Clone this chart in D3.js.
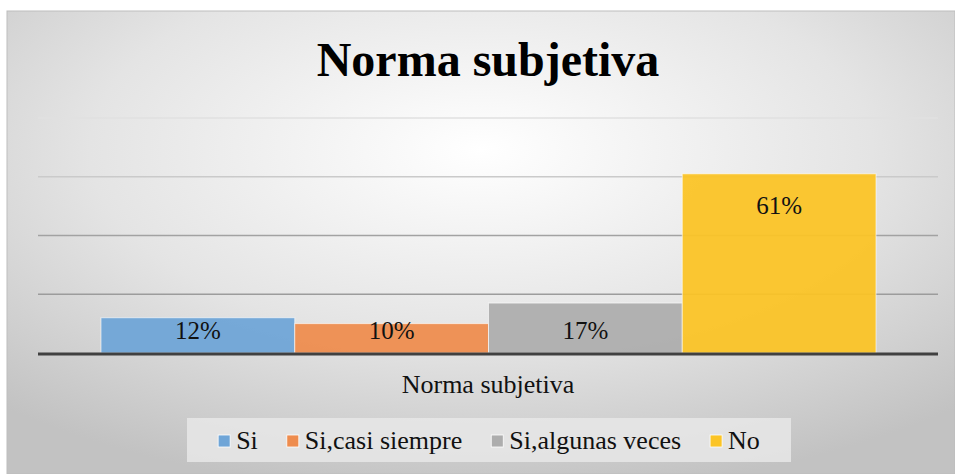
<!DOCTYPE html>
<html>
<head>
<meta charset="utf-8">
<script src="https://cdn.jsdelivr.net/npm/d3@7"></script>
<style>
  html, body { margin: 0; padding: 0; background: #fff; }
  svg { display: block; }
  svg text { font-family: "Liberation Serif", "Times New Roman", serif; }
</style>
</head>
<body>
<div id="chart"></div>
<script>
// data
const category = 'Norma subjetiva';
const seriesNames = ['Si', 'Si,casi siempre', 'Si,algunas veces', 'No'];
const seriesValues = [0.12, 0.10, 0.17, 0.61];
const seriesColors = ['#6fa5d7', '#ee8c4e', '#adadad', '#fbc425'];
const yTicks = [0, 0.2, 0.4, 0.6, 0.8];

const width = 955, height = 474;
const svg = d3.select('#chart').append('svg')
    .attr('width', width)
    .attr('height', height);

// background with soft radial shading
const defs = svg.append('defs');
const grad = defs.append('radialGradient')
    .attr('id', 'bg')
    .attr('cx', '50%').attr('cy', '30%').attr('r', '75%');
grad.append('stop').attr('offset', '0%').attr('stop-color', '#ffffff');
grad.append('stop').attr('offset', '55%').attr('stop-color', '#e4e4e4');
grad.append('stop').attr('offset', '100%').attr('stop-color', '#c2c2c2');

svg.append('rect')
    .attr('x', 7).attr('y', 11)
    .attr('width', width - 7).attr('height', height - 11)
    .attr('fill', 'url(#bg)')
    .attr('stroke', '#bdbdbd')
    .attr('stroke-width', 1);

// title
svg.append('text')
    .attr('x', 488).attr('y', 76)
    .attr('text-anchor', 'middle')
    .attr('font-size', 48)
    .attr('font-weight', 'bold')
    .text(category);

const plot = { left: 38, right: 938, top: 118, bottom: 353 };

const y = d3.scaleLinear()
    .domain([0, d3.max(yTicks)])
    .range([plot.bottom, plot.top]);

const x = d3.scaleBand()
    .domain(seriesNames)
    .range([101, 876])
    .padding(0);

// gridlines (upper ones fade out in the reference)
const gridColors = ['#9c9c9c', '#a2a2a2', '#cacaca', '#e0e0e0'];
svg.append('g')
    .selectAll('line')
    .data(yTicks.filter(t => t > 0))
    .enter()
    .append('line')
    .attr('x1', plot.left).attr('x2', plot.right)
    .attr('y1', d => y(d)).attr('y2', d => y(d))
    .attr('stroke', (d, i) => gridColors[i])
    .attr('stroke-width', 1.5);

// bars
const data = seriesNames.map((name, i) => ({ name, value: seriesValues[i], color: seriesColors[i] }));

svg.append('g')
    .selectAll('rect')
    .data(data)
    .enter()
    .append('rect')
    .attr('x', d => x(d.name))
    .attr('y', d => y(d.value))
    .attr('width', x.bandwidth())
    .attr('height', d => plot.bottom - y(d.value))
    .attr('fill', d => d.color)
    .attr('fill-opacity', 0.94)
    .attr('stroke', '#ffffff')
    .attr('stroke-opacity', 0.6)
    .attr('stroke-width', 1);

// value labels
svg.append('g')
    .selectAll('text')
    .data(data)
    .enter()
    .append('text')
    .attr('x', d => x(d.name) + x.bandwidth() / 2)
    .attr('y', d => d.value > 0.3 ? y(d.value) + 40 : plot.bottom - 14)
    .attr('text-anchor', 'middle')
    .attr('font-size', 25)
    .attr('fill', '#111')
    .text(d => Math.round(d.value * 100) + '%');

// baseline
svg.append('line')
    .attr('x1', plot.left).attr('x2', plot.right)
    .attr('y1', plot.bottom + 1).attr('y2', plot.bottom + 1)
    .attr('stroke', '#404040')
    .attr('stroke-width', 3);

// category label
svg.append('text')
    .attr('x', 488).attr('y', 393)
    .attr('text-anchor', 'middle')
    .attr('font-size', 26)
    .attr('fill', '#111')
    .text(category);

// legend
const legend = svg.append('g');
legend.append('rect')
    .attr('x', 187).attr('y', 418)
    .attr('width', 604).attr('height', 44)
    .attr('fill', '#e8e8e8')
    .attr('fill-opacity', 0.85);

const items = legend.selectAll('g.item')
    .data(data)
    .enter()
    .append('g')
    .attr('class', 'item');

items.append('rect')
    .attr('width', 12).attr('height', 12)
    .attr('y', 435)
    .attr('fill', d => d.color)
    .attr('stroke', '#fff')
    .attr('stroke-width', 0.8);

items.append('text')
    .attr('y', 449)
    .attr('font-size', 26)
    .attr('fill', '#111')
    .text(d => d.name);

// lay out items side by side, centered
const gapIcon = 6, gapItem = 29;
let widths = [];
items.select('text').each(function () { widths.push(this.getComputedTextLength()); });
const total = d3.sum(widths) + widths.length * (12 + gapIcon) + (widths.length - 1) * gapItem;
let cx = 489 - total / 2;
items.each(function (d, i) {
    const g = d3.select(this);
    g.select('rect').attr('x', cx);
    g.select('text').attr('x', cx + 12 + gapIcon);
    cx += 12 + gapIcon + widths[i] + gapItem;
});
</script>
</body>
</html>
